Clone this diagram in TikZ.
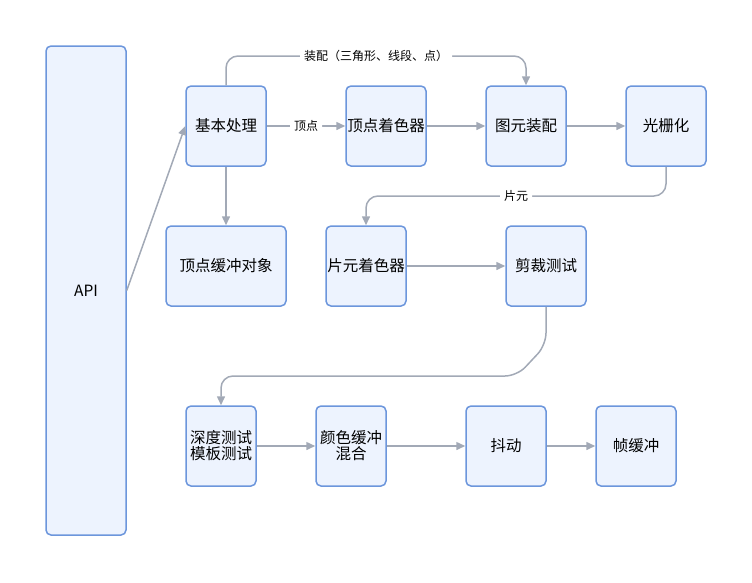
\documentclass[tikz,border=0pt]{standalone}
\usepackage{fontspec}
\setmainfont{Noto Sans CJK SC}
\usetikzlibrary{arrows.meta}
\definecolor{boxfill}{HTML}{EDF3FE}
\definecolor{boxdraw}{HTML}{6C96DC}
\definecolor{arrowc}{HTML}{A2A9B6}
\tikzset{
  box/.style={draw=boxdraw, fill=boxfill, line width=1.5pt, rounded corners=5pt,
    minimum width=80pt, minimum height=80pt, inner sep=0pt, align=center,
    font=\fontsize{15.5}{16}\selectfont},
  conn/.style={draw=arrowc, line width=1.5pt, -{Triangle[length=9pt,width=8pt]}, rounded corners=12pt},
  lbl/.style={fill=white, font=\fontsize{12}{14}\selectfont, inner sep=4pt}
}
\begin{document}
\begin{tikzpicture}[x=1pt,y=-1pt]
\useasboundingbox (0,0) rectangle (752,582);
\node[box, minimum width=80pt, minimum height=489pt] (api) at (86,290.5) {API};
\node[box] (basic) at (226,126) {基本处理};
\node[box] (vs) at (386,126) {顶点着色器};
\node[box] (prim) at (526,126) {图元装配};
\node[box] (rast) at (666,126) {光栅化};
\node[box, minimum width=120pt] (vbo) at (226,266) {顶点缓冲对象};
\node[box] (fs) at (366,266) {片元着色器};
\node[box] (clip) at (546,266) {剪裁测试};
\node[box, minimum width=70pt] (depth) at (221,446) {深度测试\\模板测试};
\node[box, minimum width=70pt] (blend) at (351,446) {颜色缓冲\\混合};
\node[box] (dither) at (506,446) {抖动};
\node[box] (fb) at (636,446) {帧缓冲};

\draw[conn] (api.east) -- (basic.west);
\draw[conn] (basic.north) -- (226,56) -- node[lbl, pos=0.5] {装配（三角形、线段、点）} (526,56) -- (prim.north);
\draw[conn] (basic.east) -- node[lbl] {顶点} (vs.west);
\draw[conn] (vs.east) -- (prim.west);
\draw[conn] (prim.east) -- (rast.west);
\draw[conn] (rast.south) -- (666,196) -- node[lbl, pos=0.5] {片元} (366,196) -- (fs.north);
\draw[conn] (basic.south) -- (vbo.north);
\draw[conn] (fs.east) -- (clip.west);
\draw[conn] (clip.south) -- (546,345) -- (517,376) -- (221,376) -- (depth.north);
\draw[conn] (depth.east) -- (blend.west);
\draw[conn] (blend.east) -- (dither.west);
\draw[conn] (dither.east) -- (fb.west);
\end{tikzpicture}
\end{document}
